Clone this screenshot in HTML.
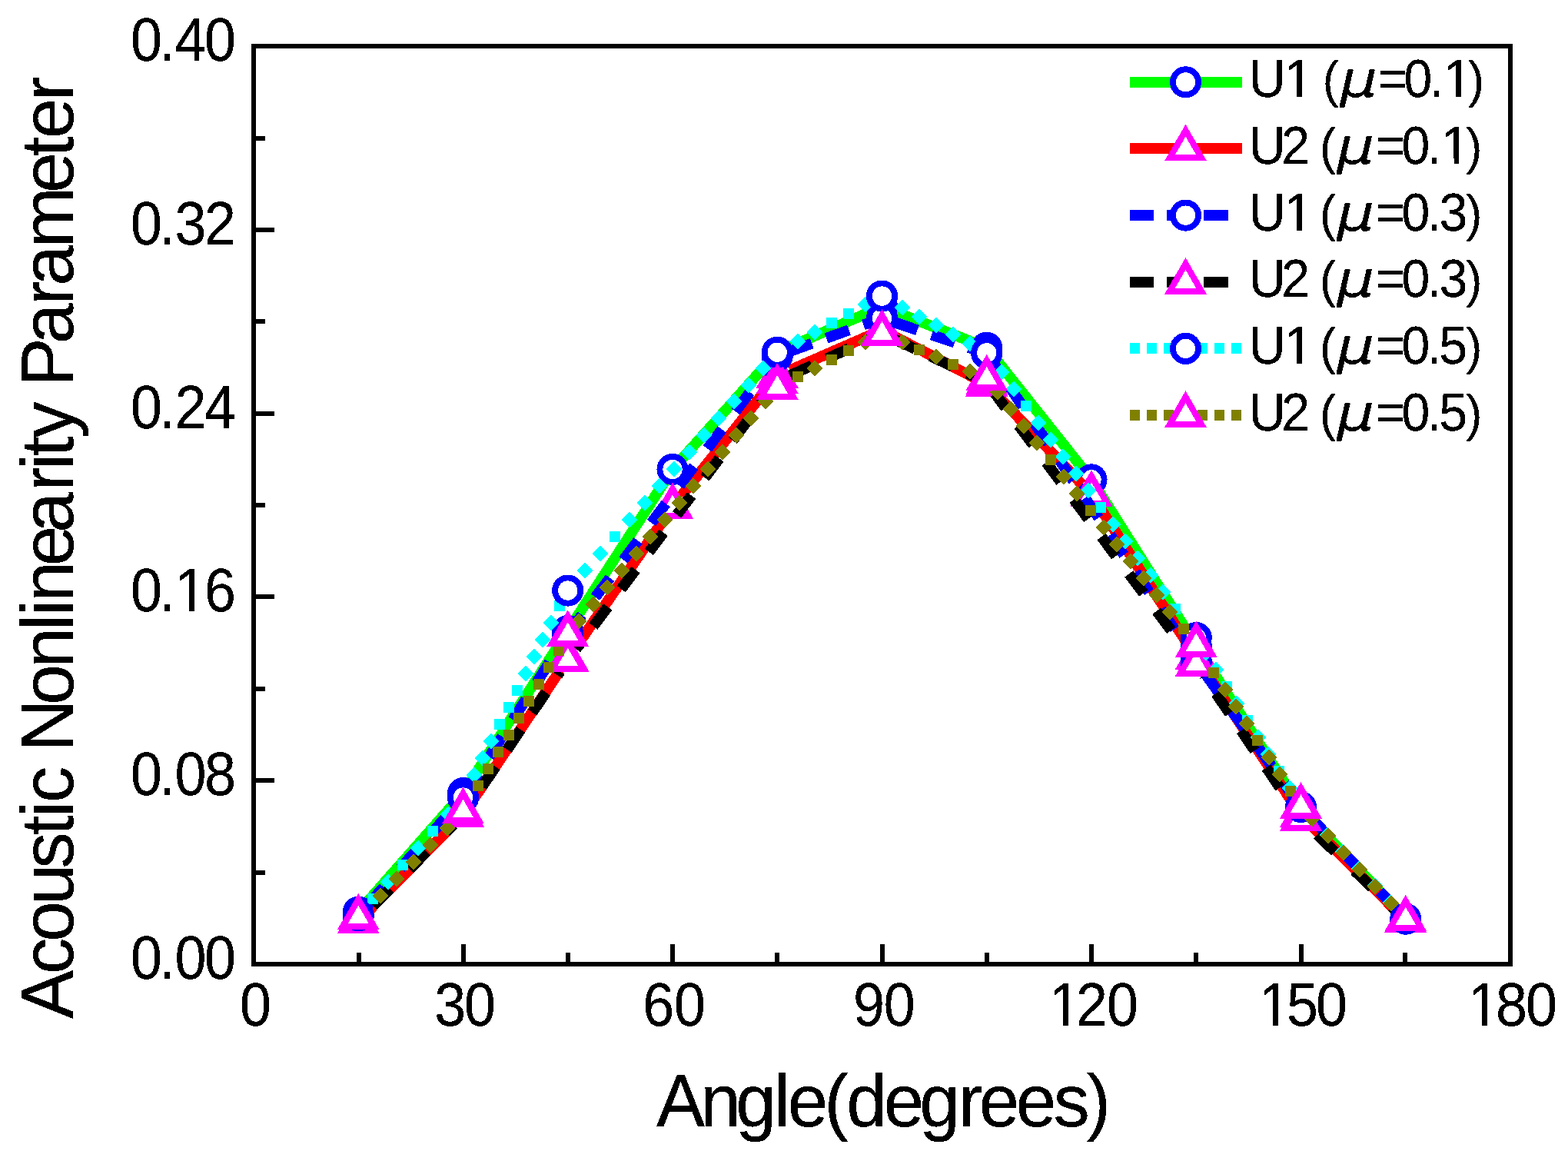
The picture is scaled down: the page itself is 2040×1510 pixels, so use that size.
<!DOCTYPE html>
<html lang="en">
<head>
<meta charset="utf-8">
<title>Acoustic Nonlinearity Parameter vs Angle</title>
<style>
html,body{margin:0;padding:0;background:#fff;}
body{width:2040px;height:1510px;overflow:hidden;}
svg{display:block;}
text{font-kerning:none;}
</style>
</head>
<body>
<svg width="2040" height="1510" viewBox="0 0 2040 1510" shape-rendering="crispEdges" text-rendering="geometricPrecision">
<defs><filter id="bw" filterUnits="userSpaceOnUse" x="0" y="0" width="2040" height="1510"><feComponentTransfer><feFuncA type="discrete" tableValues="0 1 1"/></feComponentTransfer></filter></defs>
<rect x="0" y="0" width="2040" height="1510" fill="#fff"/>
<g shape-rendering="crispEdges">
<line x1="478.15" y1="1172.74" x2="590.60" y2="1045.12" stroke="#00ff00" stroke-width="14.00"/>
<line x1="612.26" y1="1016.50" x2="728.99" y2="835.70" stroke="#00ff00" stroke-width="14.00"/>
<line x1="748.54" y1="805.47" x2="865.21" y2="625.54" stroke="#00ff00" stroke-width="14.00"/>
<line x1="887.00" y1="597.02" x2="999.25" y2="471.61" stroke="#00ff00" stroke-width="14.00"/>
<line x1="1027.75" y1="451.01" x2="1131.00" y2="405.99" stroke="#00ff00" stroke-width="14.00"/>
<line x1="1164.26" y1="405.37" x2="1266.99" y2="445.66" stroke="#00ff00" stroke-width="14.00"/>
<line x1="1294.94" y1="466.33" x2="1408.81" y2="609.77" stroke="#00ff00" stroke-width="14.00"/>
<line x1="1429.61" y1="639.09" x2="1546.64" y2="824.46" stroke="#00ff00" stroke-width="14.00"/>
<line x1="1566.00" y1="854.81" x2="1682.75" y2="1035.89" stroke="#00ff00" stroke-width="14.00"/>
<line x1="1704.86" y1="1064.10" x2="1816.39" y2="1182.11" stroke="#00ff00" stroke-width="14.00"/>
<circle cx="466.25" cy="1186.24" r="16.60" fill="#fff" stroke="#00f" stroke-width="7.90"/>
<circle cx="602.50" cy="1031.62" r="16.60" fill="#fff" stroke="#00f" stroke-width="7.90"/>
<circle cx="738.75" cy="820.58" r="16.60" fill="#fff" stroke="#00f" stroke-width="7.90"/>
<circle cx="875.00" cy="610.43" r="16.60" fill="#fff" stroke="#00f" stroke-width="7.90"/>
<circle cx="1011.25" cy="458.20" r="16.60" fill="#fff" stroke="#00f" stroke-width="7.90"/>
<circle cx="1147.50" cy="398.80" r="16.60" fill="#fff" stroke="#00f" stroke-width="7.90"/>
<circle cx="1283.75" cy="452.23" r="16.60" fill="#fff" stroke="#00f" stroke-width="7.90"/>
<circle cx="1420.00" cy="623.87" r="16.60" fill="#fff" stroke="#00f" stroke-width="7.90"/>
<circle cx="1556.25" cy="839.68" r="16.60" fill="#fff" stroke="#00f" stroke-width="7.90"/>
<circle cx="1692.50" cy="1051.02" r="16.60" fill="#fff" stroke="#00f" stroke-width="7.90"/>
<circle cx="1828.75" cy="1195.20" r="16.60" fill="#fff" stroke="#00f" stroke-width="7.90"/>
<line x1="478.87" y1="1185.35" x2="589.88" y2="1072.51" stroke="#ff0000" stroke-width="14.00"/>
<line x1="612.54" y1="1044.74" x2="728.71" y2="871.93" stroke="#ff0000" stroke-width="14.00"/>
<line x1="748.97" y1="842.18" x2="864.78" y2="674.21" stroke="#ff0000" stroke-width="14.00"/>
<line x1="886.23" y1="645.32" x2="1000.02" y2="502.72" stroke="#ff0000" stroke-width="14.00"/>
<line x1="1027.75" y1="481.45" x2="1131.00" y2="436.44" stroke="#ff0000" stroke-width="14.00"/>
<line x1="1163.49" y1="437.51" x2="1267.76" y2="491.42" stroke="#ff0000" stroke-width="14.00"/>
<line x1="1296.15" y1="512.73" x2="1407.60" y2="629.93" stroke="#ff0000" stroke-width="14.00"/>
<line x1="1429.73" y1="658.11" x2="1546.52" y2="839.76" stroke="#ff0000" stroke-width="14.00"/>
<line x1="1566.21" y1="869.90" x2="1682.54" y2="1044.98" stroke="#ff0000" stroke-width="14.00"/>
<line x1="1705.19" y1="1072.74" x2="1816.06" y2="1184.22" stroke="#ff0000" stroke-width="14.00"/>
<polygon points="466.25,1174.43 486.82,1210.06 445.68,1210.06" fill="#fff" stroke="#f0f" stroke-width="8.00" stroke-linejoin="miter" stroke-miterlimit="10"/>
<polygon points="602.50,1035.92 623.07,1071.55 581.93,1071.55" fill="#fff" stroke="#f0f" stroke-width="8.00" stroke-linejoin="miter" stroke-miterlimit="10"/>
<polygon points="738.75,833.24 759.32,868.87 718.18,868.87" fill="#fff" stroke="#f0f" stroke-width="8.00" stroke-linejoin="miter" stroke-miterlimit="10"/>
<polygon points="875.00,635.63 895.57,671.27 854.43,671.27" fill="#fff" stroke="#f0f" stroke-width="8.00" stroke-linejoin="miter" stroke-miterlimit="10"/>
<polygon points="1011.25,464.89 1031.82,500.52 990.68,500.52" fill="#fff" stroke="#f0f" stroke-width="8.00" stroke-linejoin="miter" stroke-miterlimit="10"/>
<polygon points="1147.50,405.49 1168.07,441.12 1126.93,441.12" fill="#fff" stroke="#f0f" stroke-width="8.00" stroke-linejoin="miter" stroke-miterlimit="10"/>
<polygon points="1283.75,475.94 1304.32,511.57 1263.18,511.57" fill="#fff" stroke="#f0f" stroke-width="8.00" stroke-linejoin="miter" stroke-miterlimit="10"/>
<polygon points="1420.00,619.22 1440.57,654.85 1399.43,654.85" fill="#fff" stroke="#f0f" stroke-width="8.00" stroke-linejoin="miter" stroke-miterlimit="10"/>
<polygon points="1556.25,831.15 1576.82,866.78 1535.68,866.78" fill="#fff" stroke="#f0f" stroke-width="8.00" stroke-linejoin="miter" stroke-miterlimit="10"/>
<polygon points="1692.50,1036.22 1713.07,1071.85 1671.93,1071.85" fill="#fff" stroke="#f0f" stroke-width="8.00" stroke-linejoin="miter" stroke-miterlimit="10"/>
<polygon points="1828.75,1173.23 1849.32,1208.86 1808.18,1208.86" fill="#fff" stroke="#f0f" stroke-width="8.00" stroke-linejoin="miter" stroke-miterlimit="10"/>
<line x1="478.22" y1="1177.27" x2="590.53" y2="1051.04" stroke="#0000ff" stroke-width="14.00" stroke-dasharray="31.40 33.25"/>
<line x1="612.19" y1="1022.42" x2="729.06" y2="839.33" stroke="#0000ff" stroke-width="14.00" stroke-dasharray="31.40 25.90" stroke-dashoffset="12.24"/>
<line x1="749.59" y1="809.79" x2="1000.41" y2="477.34" stroke="#0000ff" stroke-width="14.00" stroke-dasharray="31.40 29.10" stroke-dashoffset="18.97"/>
<line x1="1028.18" y1="456.86" x2="1130.57" y2="419.84" stroke="#0000ff" stroke-width="14.00" stroke-dasharray="31.40 19.96" stroke-dashoffset="1.53"/>
<line x1="1164.56" y1="419.48" x2="1266.69" y2="453.94" stroke="#0000ff" stroke-width="14.00" stroke-dasharray="31.40 19.57" stroke-dashoffset="0.77"/>
<line x1="1293.88" y1="474.57" x2="1546.12" y2="845.10" stroke="#0000ff" stroke-width="14.00" stroke-dasharray="31.40 27.03" stroke-dashoffset="24.50"/>
<line x1="1566.76" y1="874.60" x2="1681.99" y2="1034.91" stroke="#0000ff" stroke-width="14.00" stroke-dasharray="31.40 28.08"/>
<line x1="1704.80" y1="1062.67" x2="1816.45" y2="1182.05" stroke="#0000ff" stroke-width="14.00" stroke-dasharray="31.40 34.74"/>
<circle cx="466.25" cy="1190.72" r="16.60" fill="#fff" stroke="#00f" stroke-width="7.90"/>
<circle cx="602.50" cy="1037.59" r="16.60" fill="#fff" stroke="#00f" stroke-width="7.90"/>
<circle cx="738.75" cy="824.16" r="16.60" fill="#fff" stroke="#00f" stroke-width="7.90"/>
<circle cx="1011.25" cy="462.98" r="16.60" fill="#fff" stroke="#00f" stroke-width="7.90"/>
<circle cx="1147.50" cy="413.72" r="16.60" fill="#fff" stroke="#00f" stroke-width="7.90"/>
<circle cx="1283.75" cy="459.69" r="16.60" fill="#fff" stroke="#00f" stroke-width="7.90"/>
<circle cx="1556.25" cy="859.98" r="16.60" fill="#fff" stroke="#00f" stroke-width="7.90"/>
<circle cx="1692.50" cy="1049.53" r="16.60" fill="#fff" stroke="#00f" stroke-width="7.90"/>
<circle cx="1828.75" cy="1195.20" r="16.60" fill="#fff" stroke="#00f" stroke-width="7.90"/>
<line x1="478.87" y1="1185.35" x2="589.88" y2="1072.51" stroke="#000000" stroke-width="14.00" stroke-dasharray="31.40 36.35" stroke-dashoffset="58.14"/>
<line x1="612.59" y1="1044.77" x2="728.66" y2="873.39" stroke="#000000" stroke-width="14.00" stroke-dasharray="31.40 26.93" stroke-dashoffset="32.28"/>
<line x1="749.56" y1="844.10" x2="1000.44" y2="510.20" stroke="#000000" stroke-width="14.00" stroke-dasharray="31.40 29.01" stroke-dashoffset="23.33"/>
<line x1="1027.63" y1="488.35" x2="1131.12" y2="441.19" stroke="#000000" stroke-width="14.00" stroke-dasharray="31.40 21.68" stroke-dashoffset="52.99"/>
<line x1="1163.81" y1="441.33" x2="1267.44" y2="489.69" stroke="#000000" stroke-width="14.00" stroke-dasharray="31.40 21.90" stroke-dashoffset="1.81"/>
<line x1="1294.49" y1="511.75" x2="1545.51" y2="849.41" stroke="#000000" stroke-width="14.00" stroke-dasharray="31.40 28.78" stroke-dashoffset="8.53"/>
<line x1="1566.35" y1="878.76" x2="1682.40" y2="1049.85" stroke="#000000" stroke-width="14.00" stroke-dasharray="31.40 26.96" stroke-dashoffset="30.51"/>
<line x1="1705.42" y1="1077.29" x2="1815.83" y2="1184.45" stroke="#000000" stroke-width="14.00" stroke-dasharray="31.40 35.91" stroke-dashoffset="55.28"/>
<polygon points="466.25,1174.43 486.82,1210.06 445.68,1210.06" fill="#fff" stroke="#f0f" stroke-width="8.00" stroke-linejoin="miter" stroke-miterlimit="10"/>
<polygon points="602.50,1035.92 623.07,1071.55 581.93,1071.55" fill="#fff" stroke="#f0f" stroke-width="8.00" stroke-linejoin="miter" stroke-miterlimit="10"/>
<polygon points="738.75,834.73 759.32,870.36 718.18,870.36" fill="#fff" stroke="#f0f" stroke-width="8.00" stroke-linejoin="miter" stroke-miterlimit="10"/>
<polygon points="1011.25,472.06 1031.82,507.69 990.68,507.69" fill="#fff" stroke="#f0f" stroke-width="8.00" stroke-linejoin="miter" stroke-miterlimit="10"/>
<polygon points="1147.50,409.97 1168.07,445.60 1126.93,445.60" fill="#fff" stroke="#f0f" stroke-width="8.00" stroke-linejoin="miter" stroke-miterlimit="10"/>
<polygon points="1283.75,473.55 1304.32,509.18 1263.18,509.18" fill="#fff" stroke="#f0f" stroke-width="8.00" stroke-linejoin="miter" stroke-miterlimit="10"/>
<polygon points="1556.25,840.11 1576.82,875.74 1535.68,875.74" fill="#fff" stroke="#f0f" stroke-width="8.00" stroke-linejoin="miter" stroke-miterlimit="10"/>
<polygon points="1692.50,1041.00 1713.07,1076.63 1671.93,1076.63" fill="#fff" stroke="#f0f" stroke-width="8.00" stroke-linejoin="miter" stroke-miterlimit="10"/>
<polygon points="1828.75,1173.23 1849.32,1208.86 1808.18,1208.86" fill="#fff" stroke="#f0f" stroke-width="8.00" stroke-linejoin="miter" stroke-miterlimit="10"/>
<path d="M478 1162h14v14h-14zM505 1136.6l10.4 10.4l-10.4 10.4l-10.4 -10.4zM517 1118h14v14h-14zM544 1092.6l10.4 10.4l-10.4 10.4l-10.4 -10.4zM556 1074h14v14h-14zM583 1048.6l10.4 10.4l-10.4 10.4l-10.4 -10.4z" fill="#00ffff"/>
<path d="M617 997.6l10.4 10.4l-10.4 10.4l-10.4 -10.4zM628 975.6l10.4 10.4l-10.4 10.4l-10.4 -10.4zM639 953.6l10.4 10.4l-10.4 10.4l-10.4 -10.4zM643 935h14v14h-14zM655 913h14v14h-14zM666 891h14v14h-14zM684 865.6l10.4 10.4l-10.4 10.4l-10.4 -10.4zM695 843.6l10.4 10.4l-10.4 10.4l-10.4 -10.4zM706 821.6l10.4 10.4l-10.4 10.4l-10.4 -10.4zM717 799.6l10.4 10.4l-10.4 10.4l-10.4 -10.4zM721 781h14v14h-14z" fill="#00ffff"/>
<path d="M761 731.6l10.4 10.4l-10.4 10.4l-10.4 -10.4zM781 709.6l10.4 10.4l-10.4 10.4l-10.4 -10.4zM793 691h14v14h-14zM819 665.6l10.4 10.4l-10.4 10.4l-10.4 -10.4zM839 643.6l10.4 10.4l-10.4 10.4l-10.4 -10.4zM858 621.6l10.4 10.4l-10.4 10.4l-10.4 -10.4zM877 599.6l10.4 10.4l-10.4 10.4l-10.4 -10.4zM897 577.6l10.4 10.4l-10.4 10.4l-10.4 -10.4zM916 555.6l10.4 10.4l-10.4 10.4l-10.4 -10.4zM935 533.6l10.4 10.4l-10.4 10.4l-10.4 -10.4zM955 511.6l10.4 10.4l-10.4 10.4l-10.4 -10.4zM974 490.6l10.4 10.4l-10.4 10.4l-10.4 -10.4zM993 468.6l10.4 10.4l-10.4 10.4l-10.4 -10.4z" fill="#00ffff"/>
<path d="M1038 433.6l10.4 10.4l-10.4 10.4l-10.4 -10.4zM1060 421.6l10.4 10.4l-10.4 10.4l-10.4 -10.4zM1075 413h14v14h-14zM1097 401h14v14h-14zM1126 385.6l10.4 10.4l-10.4 10.4l-10.4 -10.4z" fill="#00ffff"/>
<path d="M1174 389.6l10.4 10.4l-10.4 10.4l-10.4 -10.4zM1196 401.6l10.4 10.4l-10.4 10.4l-10.4 -10.4zM1218 412.6l10.4 10.4l-10.4 10.4l-10.4 -10.4zM1240 424.6l10.4 10.4l-10.4 10.4l-10.4 -10.4zM1262 436.6l10.4 10.4l-10.4 10.4l-10.4 -10.4z" fill="#00ffff"/>
<path d="M1303 473.6l10.4 10.4l-10.4 10.4l-10.4 -10.4zM1319 495.6l10.4 10.4l-10.4 10.4l-10.4 -10.4zM1328 521h14v14h-14zM1351 539.6l10.4 10.4l-10.4 10.4l-10.4 -10.4zM1367 561.6l10.4 10.4l-10.4 10.4l-10.4 -10.4zM1383 583.6l10.4 10.4l-10.4 10.4l-10.4 -10.4zM1400 605.6l10.4 10.4l-10.4 10.4l-10.4 -10.4zM1416 627.6l10.4 10.4l-10.4 10.4l-10.4 -10.4zM1425 653h14v14h-14zM1448 671.6l10.4 10.4l-10.4 10.4l-10.4 -10.4zM1464 693.6l10.4 10.4l-10.4 10.4l-10.4 -10.4zM1480 715.6l10.4 10.4l-10.4 10.4l-10.4 -10.4zM1497 737.6l10.4 10.4l-10.4 10.4l-10.4 -10.4zM1513 759.6l10.4 10.4l-10.4 10.4l-10.4 -10.4zM1522 785h14v14h-14z" fill="#00ffff"/>
<path d="M1569 838.6l10.4 10.4l-10.4 10.4l-10.4 -10.4zM1582 860.6l10.4 10.4l-10.4 10.4l-10.4 -10.4zM1589 886h14v14h-14zM1609 904.6l10.4 10.4l-10.4 10.4l-10.4 -10.4zM1616 930h14v14h-14zM1637 948.6l10.4 10.4l-10.4 10.4l-10.4 -10.4zM1650 970.6l10.4 10.4l-10.4 10.4l-10.4 -10.4zM1657 996h14v14h-14zM1678 1014.6l10.4 10.4l-10.4 10.4l-10.4 -10.4z" fill="#00ffff"/>
<path d="M1727 1075.6l10.4 10.4l-10.4 10.4l-10.4 -10.4zM1747 1097.6l10.4 10.4l-10.4 10.4l-10.4 -10.4zM1768 1119.6l10.4 10.4l-10.4 10.4l-10.4 -10.4zM1789 1141.6l10.4 10.4l-10.4 10.4l-10.4 -10.4zM1809 1163.6l10.4 10.4l-10.4 10.4l-10.4 -10.4z" fill="#00ffff"/>
<circle cx="466.25" cy="1190.72" r="16.60" fill="#fff" stroke="#00f" stroke-width="7.90"/>
<circle cx="602.50" cy="1036.99" r="16.60" fill="#fff" stroke="#00f" stroke-width="7.90"/>
<circle cx="738.75" cy="768.04" r="16.60" fill="#fff" stroke="#00f" stroke-width="7.90"/>
<circle cx="1011.25" cy="458.20" r="16.60" fill="#fff" stroke="#00f" stroke-width="7.90"/>
<circle cx="1147.50" cy="385.07" r="16.60" fill="#fff" stroke="#00f" stroke-width="7.90"/>
<circle cx="1283.75" cy="458.80" r="16.60" fill="#fff" stroke="#00f" stroke-width="7.90"/>
<circle cx="1556.25" cy="829.53" r="16.60" fill="#fff" stroke="#00f" stroke-width="7.90"/>
<circle cx="1692.50" cy="1049.53" r="16.60" fill="#fff" stroke="#00f" stroke-width="7.90"/>
<circle cx="1828.75" cy="1195.20" r="16.60" fill="#fff" stroke="#00f" stroke-width="7.90"/>
<path d="M495 1154.6l10.4 10.4l-10.4 10.4l-10.4 -10.4zM516 1132.6l10.4 10.4l-10.4 10.4l-10.4 -10.4zM538 1110.6l10.4 10.4l-10.4 10.4l-10.4 -10.4zM560 1088.6l10.4 10.4l-10.4 10.4l-10.4 -10.4zM582 1066.6l10.4 10.4l-10.4 10.4l-10.4 -10.4z" fill="#808000"/>
<path d="M615 1015h14v14h-14zM628 993h14v14h-14zM641 971h14v14h-14zM655 949h14v14h-14zM668 927h14v14h-14zM681 905h14v14h-14zM694 883h14v14h-14zM707 861h14v14h-14zM720 839h14v14h-14z" fill="#808000"/>
<path d="M753 797.6l10.4 10.4l-10.4 10.4l-10.4 -10.4zM772 775.6l10.4 10.4l-10.4 10.4l-10.4 -10.4zM790 753.6l10.4 10.4l-10.4 10.4l-10.4 -10.4zM809 731.6l10.4 10.4l-10.4 10.4l-10.4 -10.4zM828 709.6l10.4 10.4l-10.4 10.4l-10.4 -10.4zM846 687.6l10.4 10.4l-10.4 10.4l-10.4 -10.4zM865 665.6l10.4 10.4l-10.4 10.4l-10.4 -10.4zM884 643.6l10.4 10.4l-10.4 10.4l-10.4 -10.4zM902 621.6l10.4 10.4l-10.4 10.4l-10.4 -10.4zM921 599.6l10.4 10.4l-10.4 10.4l-10.4 -10.4zM940 577.6l10.4 10.4l-10.4 10.4l-10.4 -10.4zM958 555.6l10.4 10.4l-10.4 10.4l-10.4 -10.4zM977 533.6l10.4 10.4l-10.4 10.4l-10.4 -10.4zM996 511.6l10.4 10.4l-10.4 10.4l-10.4 -10.4z" fill="#808000"/>
<path d="M1031 483h14v14h-14zM1060 468.6l10.4 10.4l-10.4 10.4l-10.4 -10.4zM1075 461h14v14h-14zM1097 449h14v14h-14zM1126 434.6l10.4 10.4l-10.4 10.4l-10.4 -10.4z" fill="#808000"/>
<path d="M1174 434.6l10.4 10.4l-10.4 10.4l-10.4 -10.4zM1189 448h14v14h-14zM1218 453.6l10.4 10.4l-10.4 10.4l-10.4 -10.4zM1233 467h14v14h-14zM1262 472.6l10.4 10.4l-10.4 10.4l-10.4 -10.4z" fill="#808000"/>
<path d="M1298 499.6l10.4 10.4l-10.4 10.4l-10.4 -10.4zM1315 521.6l10.4 10.4l-10.4 10.4l-10.4 -10.4zM1332 543.6l10.4 10.4l-10.4 10.4l-10.4 -10.4zM1349 565.6l10.4 10.4l-10.4 10.4l-10.4 -10.4zM1360 591h14v14h-14zM1384 609.6l10.4 10.4l-10.4 10.4l-10.4 -10.4zM1401 631.6l10.4 10.4l-10.4 10.4l-10.4 -10.4zM1412 657h14v14h-14zM1436 675.6l10.4 10.4l-10.4 10.4l-10.4 -10.4zM1453 697.6l10.4 10.4l-10.4 10.4l-10.4 -10.4zM1471 719.6l10.4 10.4l-10.4 10.4l-10.4 -10.4zM1488 741.6l10.4 10.4l-10.4 10.4l-10.4 -10.4zM1505 763.6l10.4 10.4l-10.4 10.4l-10.4 -10.4zM1522 785.6l10.4 10.4l-10.4 10.4l-10.4 -10.4zM1533 811h14v14h-14z" fill="#808000"/>
<path d="M1572 868h14v14h-14zM1594 886.6l10.4 10.4l-10.4 10.4l-10.4 -10.4zM1608 908.6l10.4 10.4l-10.4 10.4l-10.4 -10.4zM1622 930.6l10.4 10.4l-10.4 10.4l-10.4 -10.4zM1629 956h14v14h-14zM1651 974.6l10.4 10.4l-10.4 10.4l-10.4 -10.4zM1665 996.6l10.4 10.4l-10.4 10.4l-10.4 -10.4zM1672 1022h14v14h-14z" fill="#808000"/>
<path d="M1707 1054.6l10.4 10.4l-10.4 10.4l-10.4 -10.4zM1728 1076.6l10.4 10.4l-10.4 10.4l-10.4 -10.4zM1748 1098.6l10.4 10.4l-10.4 10.4l-10.4 -10.4zM1769 1120.6l10.4 10.4l-10.4 10.4l-10.4 -10.4zM1789 1142.6l10.4 10.4l-10.4 10.4l-10.4 -10.4zM1810 1164.6l10.4 10.4l-10.4 10.4l-10.4 -10.4z" fill="#808000"/>
<polygon points="466.25,1169.65 486.82,1205.28 445.68,1205.28" fill="#fff" stroke="#f0f" stroke-width="8.00" stroke-linejoin="miter" stroke-miterlimit="10"/>
<polygon points="602.50,1031.74 623.07,1067.37 581.93,1067.37" fill="#fff" stroke="#f0f" stroke-width="8.00" stroke-linejoin="miter" stroke-miterlimit="10"/>
<polygon points="738.75,801.30 759.32,836.93 718.18,836.93" fill="#fff" stroke="#f0f" stroke-width="8.00" stroke-linejoin="miter" stroke-miterlimit="10"/>
<polygon points="1011.25,480.12 1031.82,515.75 990.68,515.75" fill="#fff" stroke="#f0f" stroke-width="8.00" stroke-linejoin="miter" stroke-miterlimit="10"/>
<polygon points="1147.50,409.97 1168.07,445.60 1126.93,445.60" fill="#fff" stroke="#f0f" stroke-width="8.00" stroke-linejoin="miter" stroke-miterlimit="10"/>
<polygon points="1283.75,468.77 1304.32,504.40 1263.18,504.40" fill="#fff" stroke="#f0f" stroke-width="8.00" stroke-linejoin="miter" stroke-miterlimit="10"/>
<polygon points="1556.25,815.33 1576.82,850.96 1535.68,850.96" fill="#fff" stroke="#f0f" stroke-width="8.00" stroke-linejoin="miter" stroke-miterlimit="10"/>
<polygon points="1692.50,1025.18 1713.07,1060.81 1671.93,1060.81" fill="#fff" stroke="#f0f" stroke-width="8.00" stroke-linejoin="miter" stroke-miterlimit="10"/>
<polygon points="1828.75,1171.74 1849.32,1207.37 1808.18,1207.37" fill="#fff" stroke="#f0f" stroke-width="8.00" stroke-linejoin="miter" stroke-miterlimit="10"/>
</g>
<g fill="#000">
<rect x="327.0" y="57.0" width="1641.0" height="6.0"/>
<rect x="327.0" y="1251.0" width="1641.0" height="6.0"/>
<rect x="327.0" y="57.0" width="6.0" height="1200.0"/>
<rect x="1962.0" y="57.0" width="6.0" height="1200.0"/>
<rect x="464.0" y="1239.0" width="6" height="12.0"/>
<rect x="600.0" y="1228.0" width="6" height="23.0"/>
<rect x="736.0" y="1239.0" width="6" height="12.0"/>
<rect x="872.0" y="1228.0" width="6" height="23.0"/>
<rect x="1008.0" y="1239.0" width="6" height="12.0"/>
<rect x="1145.0" y="1228.0" width="6" height="23.0"/>
<rect x="1281.0" y="1239.0" width="6" height="12.0"/>
<rect x="1417.0" y="1228.0" width="6" height="23.0"/>
<rect x="1553.0" y="1239.0" width="6" height="12.0"/>
<rect x="1690.0" y="1228.0" width="6" height="23.0"/>
<rect x="1825.0" y="1239.0" width="6" height="12.0"/>
<rect x="333.0" y="1132.0" width="12.0" height="6"/>
<rect x="333.0" y="1012.0" width="24.0" height="6"/>
<rect x="333.0" y="893.0" width="12.0" height="6"/>
<rect x="333.0" y="773.0" width="24.0" height="6"/>
<rect x="333.0" y="654.0" width="12.0" height="6"/>
<rect x="333.0" y="535.0" width="24.0" height="6"/>
<rect x="333.0" y="415.0" width="12.0" height="6"/>
<rect x="333.0" y="296.0" width="24.0" height="6"/>
<rect x="333.0" y="177.0" width="12.0" height="6"/>
</g>
<g shape-rendering="crispEdges">
<line x1="1469.60" y1="106.80" x2="1616.20" y2="106.80" stroke="#00ff00" stroke-width="14.00"/>
<circle cx="1542.50" cy="106.80" r="16.60" fill="#fff" stroke="#00f" stroke-width="7.90"/>
<line x1="1469.60" y1="193.45" x2="1616.20" y2="193.45" stroke="#ff0000" stroke-width="14.00"/>
<polygon points="1542.50,169.70 1563.07,205.33 1521.93,205.33" fill="#fff" stroke="#f0f" stroke-width="8.00" stroke-linejoin="miter" stroke-miterlimit="10"/>
<line x1="1469.60" y1="280.10" x2="1597.60" y2="280.10" stroke="#0000ff" stroke-width="14.00" stroke-dasharray="31.40 16.90"/>
<circle cx="1542.50" cy="280.10" r="16.60" fill="#fff" stroke="#00f" stroke-width="7.90"/>
<line x1="1469.60" y1="366.75" x2="1597.60" y2="366.75" stroke="#000000" stroke-width="14.00" stroke-dasharray="31.40 16.90"/>
<polygon points="1542.50,343.00 1563.07,378.63 1521.93,378.63" fill="#fff" stroke="#f0f" stroke-width="8.00" stroke-linejoin="miter" stroke-miterlimit="10"/>
<line x1="1469.60" y1="453.40" x2="1616.20" y2="453.40" stroke="#00ffff" stroke-width="14.00" stroke-dasharray="13.70 8.30"/>
<circle cx="1542.50" cy="453.40" r="16.60" fill="#fff" stroke="#00f" stroke-width="7.90"/>
<line x1="1469.60" y1="540.05" x2="1616.20" y2="540.05" stroke="#808000" stroke-width="14.00" stroke-dasharray="13.70 8.30"/>
<polygon points="1542.50,516.30 1563.07,551.93 1521.93,551.93" fill="#fff" stroke="#f0f" stroke-width="8.00" stroke-linejoin="miter" stroke-miterlimit="10"/>
</g>
<g fill="#000" filter="url(#bw)">
<text font-family="'Liberation Sans', sans-serif" font-size="80.00" transform="translate(0,1273.00) scale(0.9200,1)" x="184.89 225.22 247.28 289.13" y="0">0.00</text>
<text font-family="'Liberation Sans', sans-serif" font-size="80.00" transform="translate(0,1034.20) scale(0.9200,1)" x="184.89 225.22 247.28 289.13" y="0">0.08</text>
<text font-family="'Liberation Sans', sans-serif" font-size="80.00" transform="translate(0,795.40) scale(0.9200,1)" x="184.89 225.22 247.28 289.13" y="0">0.16</text>
<text font-family="'Liberation Sans', sans-serif" font-size="80.00" transform="translate(0,556.60) scale(0.9200,1)" x="184.89 225.22 247.28 289.13" y="0">0.24</text>
<text font-family="'Liberation Sans', sans-serif" font-size="80.00" transform="translate(0,317.80) scale(0.9200,1)" x="184.89 225.22 247.28 289.13" y="0">0.32</text>
<text font-family="'Liberation Sans', sans-serif" font-size="80.00" transform="translate(0,79.00) scale(0.9200,1)" x="184.89 225.22 247.28 289.13" y="0">0.40</text>
<text font-family="'Liberation Sans', sans-serif" font-size="80.00" transform="translate(0,1334.00) scale(0.9200,1)" x="339.28" y="0">0</text>
<text font-family="'Liberation Sans', sans-serif" font-size="80.00" transform="translate(0,1334.00) scale(0.9200,1)" x="614.46 656.56" y="0">30</text>
<text font-family="'Liberation Sans', sans-serif" font-size="80.00" transform="translate(0,1334.00) scale(0.9200,1)" x="909.06 953.19" y="0">60</text>
<text font-family="'Liberation Sans', sans-serif" font-size="80.00" transform="translate(0,1334.00) scale(0.9200,1)" x="1206.41 1249.60" y="0">90</text>
<text font-family="'Liberation Sans', sans-serif" font-size="80.00" transform="translate(0,1334.00) scale(0.9200,1)" x="1483.68 1521.72 1565.20" y="0">120</text>
<text font-family="'Liberation Sans', sans-serif" font-size="80.00" transform="translate(0,1334.00) scale(0.9200,1)" x="1780.42 1819.63 1860.96" y="0">150</text>
<text font-family="'Liberation Sans', sans-serif" font-size="80.00" transform="translate(0,1334.00) scale(0.9200,1)" x="2076.07 2115.25 2157.59" y="0">180</text>
<text font-family="'Liberation Sans', sans-serif" font-size="96.50" transform="translate(0,1465.00) scale(0.9800,1)" x="871.39 929.88 976.75 1027.62 1045.76 1094.28 1123.79 1173.11 1220.68 1272.45 1299.79 1348.82 1398.37 1442.41" y="0">Angle(degrees)</text>
<text font-family="'Liberation Sans', sans-serif" font-size="96.50" transform="translate(95.00,0) rotate(-90) scale(0.9800,1)" x="-1352.08 -1292.91 -1249.69 -1200.69 -1152.76 -1108.73 -1084.57 -1065.16 -1031.31 -997.47 -935.51 -886.34 -836.97 -817.43 -798.59 -751.18 -706.95 -651.74 -623.30 -605.72 -581.24 -546.93 -512.63 -456.44 -404.90 -379.24 -328.89 -255.87 -207.76 -183.83 -133.67" y="0">Acoustic Nonlinearity Parameter</text>
<text font-family="'Liberation Sans', sans-serif" font-size="69.60" transform="translate(0,126.30) scale(0.9500,1)" y="0"><tspan x="1710.66 1758.87 1789.47">U1 </tspan><tspan x="1811.39" font-size="65.60">(</tspan><tspan x="1835.17" font-family="'DejaVu Sans', sans-serif" font-style="oblique" font-size="65.00" textLength="51.14" lengthAdjust="spacingAndGlyphs">μ</tspan><tspan x="1887.06 1922.70 1957.70 1976.87">=0.1</tspan><tspan x="2010.76" font-size="65.60">)</tspan></text>
<text font-family="'Liberation Sans', sans-serif" font-size="69.60" transform="translate(0,212.95) scale(0.9500,1)" y="0"><tspan x="1710.66 1755.12 1792.63">U2 </tspan><tspan x="1807.29" font-size="65.60">(</tspan><tspan x="1830.96" font-family="'DejaVu Sans', sans-serif" font-style="oblique" font-size="65.00" textLength="51.25" lengthAdjust="spacingAndGlyphs">μ</tspan><tspan x="1883.75 1919.54 1954.44 1973.82">=0.1</tspan><tspan x="2007.92" font-size="65.60">)</tspan></text>
<text font-family="'Liberation Sans', sans-serif" font-size="69.60" transform="translate(0,299.60) scale(0.9500,1)" y="0"><tspan x="1710.66 1758.87 1789.47">U1 </tspan><tspan x="1807.29" font-size="65.60">(</tspan><tspan x="1830.96" font-family="'DejaVu Sans', sans-serif" font-style="oblique" font-size="65.00" textLength="51.25" lengthAdjust="spacingAndGlyphs">μ</tspan><tspan x="1883.75 1919.54 1954.44 1970.96">=0.3</tspan><tspan x="2007.92" font-size="65.60">)</tspan></text>
<text font-family="'Liberation Sans', sans-serif" font-size="69.60" transform="translate(0,386.25) scale(0.9500,1)" y="0"><tspan x="1710.66 1755.12 1792.63">U2 </tspan><tspan x="1807.29" font-size="65.60">(</tspan><tspan x="1830.96" font-family="'DejaVu Sans', sans-serif" font-style="oblique" font-size="65.00" textLength="51.25" lengthAdjust="spacingAndGlyphs">μ</tspan><tspan x="1883.75 1919.54 1954.44 1970.96">=0.3</tspan><tspan x="2007.92" font-size="65.60">)</tspan></text>
<text font-family="'Liberation Sans', sans-serif" font-size="69.60" transform="translate(0,472.90) scale(0.9500,1)" y="0"><tspan x="1710.66 1758.87 1789.47">U1 </tspan><tspan x="1807.29" font-size="65.60">(</tspan><tspan x="1830.96" font-family="'DejaVu Sans', sans-serif" font-style="oblique" font-size="65.00" textLength="51.25" lengthAdjust="spacingAndGlyphs">μ</tspan><tspan x="1883.75 1919.54 1954.44 1970.82">=0.5</tspan><tspan x="2007.92" font-size="65.60">)</tspan></text>
<text font-family="'Liberation Sans', sans-serif" font-size="69.60" transform="translate(0,559.55) scale(0.9500,1)" y="0"><tspan x="1710.66 1755.12 1792.63">U2 </tspan><tspan x="1807.29" font-size="65.60">(</tspan><tspan x="1830.96" font-family="'DejaVu Sans', sans-serif" font-style="oblique" font-size="65.00" textLength="51.25" lengthAdjust="spacingAndGlyphs">μ</tspan><tspan x="1883.75 1919.54 1954.44 1970.82">=0.5</tspan><tspan x="2007.92" font-size="65.60">)</tspan></text>
</g>
<path fill="#fff" d="M232 788h14v9h-14zM253 788h13v9h-13zM1369 1327h14v8h-14zM1390 1327h14v8h-14zM1642 1327h14v8h-14zM1663 1327h14v8h-14zM1914 1327h14v8h-14zM1935 1327h14v8h-14zM1674 120h13v8h-13zM1694 120h12v8h-12zM1882 120h12v8h-12zM1901 120h12v8h-12zM1879 206h13v8h-13zM1898 206h12v8h-12zM1674 293h13v8h-13zM1694 293h12v8h-12zM1674 466h13v8h-13zM1694 466h12v8h-12z"/>
</svg>
</body>
</html>
